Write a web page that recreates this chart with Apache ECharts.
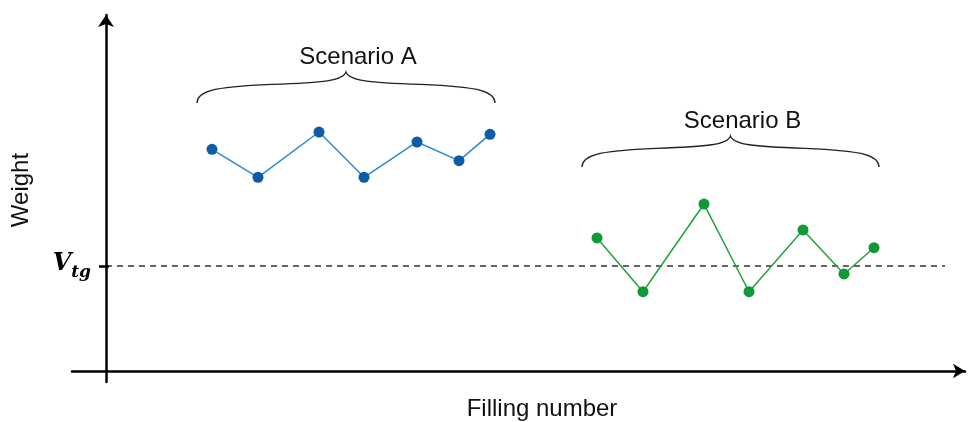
<!DOCTYPE html>
<html>
<head>
<meta charset="utf-8">
<script src="https://cdn.jsdelivr.net/npm/echarts@6/dist/echarts.min.js"></script>
<style>html,body{margin:0;padding:0;background:#fff;}#c{width:970px;height:422px;}</style>
</head>
<body>
<div id="c"></div>
<script>
// ---- data ----
const scenarioNames = ['Scenario A', 'Scenario B'];
const fillingA = [10.6, 15.2, 21.3, 25.8, 31.1, 35.3, 38.4];
const weightA  = [211.1, 184.5, 227.6, 184.5, 218.1, 200.3, 225.4];
const fillingB = [49.1, 53.7, 59.8, 64.3, 69.7, 73.8, 76.8];
const weightB  = [126.7, 75.5, 159.0, 75.5, 134.3, 92.4, 117.4];
const targetWeight = 100;          // V_tg
const targetLineEnd = 83.9;        // filling position where the dashed target line ends
const braceLevels = [255.2, 194.3];
const axisNames = { x: 'Filling number', y: 'Weight' };

// ---- layout ----
const W = 970, H = 422;
const gridLeft = 72, gridRight = 5, gridTop = 15, gridBottom = 40;
const originX = 106, originY = 371;
const pxPerX = 10, pxPerY = 1.05;
const xMin = (gridLeft - originX) / pxPerX;
const xMax = (W - gridRight - originX) / pxPerX;
const yMax = (originY - gridTop) / pxPerY;
const yMin = -((H - gridBottom) - originY) / pxPerY;

const FONT = '"Liberation Sans", Arial, sans-serif';

const groups = [
  { x: fillingA, y: weightA, line: '#2b8ad6', mark: '#0d5ca8' },
  { x: fillingB, y: weightB, line: '#22a03c', mark: '#0e9a34' }
];

const braceData = groups.map((g, i) => [Math.min(...g.x) - 1.5, Math.max(...g.x) + 0.5, braceLevels[i], i]);

const chart = echarts.init(document.getElementById('c'), null, { renderer: 'canvas' });

const series = groups.map((g, i) => ({
  name: scenarioNames[i],
  type: 'line',
  data: g.x.map((v, k) => [v, g.y[k]]),
  symbol: 'circle',
  symbolSize: 11,
  showSymbol: true,
  lineStyle: { color: g.line, width: 1.5 },
  itemStyle: { color: g.mark },
  z: 5
}));

// target dashed line and its tick on the y axis
series.push({
  type: 'line',
  data: [],
  markLine: {
    silent: true,
    symbol: 'none',
    label: { show: false },
    data: [
      [{ coord: [0, targetWeight], lineStyle: { type: [6, 5], color: '#333', width: 1.5 } },
       { coord: [targetLineEnd, targetWeight] }],
      [{ coord: [-0.7, targetWeight], lineStyle: { type: 'solid', color: '#000', width: 2.5 } },
       { coord: [0.3, targetWeight] }]
    ]
  }
});

// braces with scenario labels
series.push({
  type: 'custom',
  data: braceData,
  clip: false,
  z: 4,
  renderItem: function (params, api) {
    const p0 = api.coord([api.value(0), api.value(2)]);
    const p1 = api.coord([api.value(1), api.value(2)]);
    const x0 = p0[0], x1 = p1[0], yb = p0[1];
    const xc = (x0 + x1) / 2, hw = (x1 - x0) / 2, h = 31;
    const d = [
      'M', x0, yb,
      'C', x0, yb - 0.35 * h, x0 + 0.08 * hw, yb - 0.52 * h, x0 + 0.5 * hw, yb - 0.6 * h,
      'C', x0 + 0.85 * hw, yb - 0.66 * h, x0 + 0.98 * hw, yb - 0.72 * h, xc, yb - h,
      'C', xc + 0.02 * hw, yb - 0.72 * h, xc + 0.15 * hw, yb - 0.66 * h, xc + 0.5 * hw, yb - 0.6 * h,
      'C', x1 - 0.08 * hw, yb - 0.52 * h, x1, yb - 0.35 * h, x1, yb
    ].join(' ');
    const idx = api.value(3);
    return {
      type: 'group',
      children: [
        { type: 'path', shape: { pathData: d }, style: { fill: 'none', stroke: '#222', lineWidth: 1.3 } },
        { type: 'text', style: { text: scenarioNames[idx], x: xc + 12, y: yb - h - 15,
            align: 'center', verticalAlign: 'middle', fontSize: 24, fontFamily: FONT, fill: '#111' } }
      ]
    };
  }
});

chart.setOption({
  animation: false,
  backgroundColor: '#fff',
  grid: { left: gridLeft, right: gridRight, top: gridTop, bottom: gridBottom, containLabel: false, outerBoundsMode: 'none' },
  xAxis: {
    type: 'value', min: xMin, max: xMax,
    name: axisNames.x, nameLocation: 'middle', nameGap: 15, nameMoveOverlap: false,
    nameTextStyle: { fontSize: 24, fontFamily: FONT, color: '#111', padding: [0, 0, 0, 47] },
    axisLine: { onZero: true, lineStyle: { color: '#000', width: 2.5 }, symbol: ['none', 'arrow'], symbolSize: [11, 12] },
    axisTick: { show: false }, axisLabel: { show: false }, splitLine: { show: false }
  },
  yAxis: {
    type: 'value', min: yMin, max: yMax,
    name: axisNames.y, nameLocation: 'middle', nameRotate: 90, nameGap: 39, nameMoveOverlap: false,
    nameTextStyle: { fontSize: 24, fontFamily: FONT, color: '#111', padding: [0, 0, 0, 17] },
    axisLine: { onZero: true, lineStyle: { color: '#000', width: 2.5 }, symbol: ['none', 'arrow'], symbolSize: [12, 12] },
    axisTick: { show: false }, splitLine: { show: false },
    axisLabel: {
      show: true, customValues: [targetWeight], margin: -19,
      formatter: function () { return '{v|V}{s|tg}'; },
      rich: {
        v: { fontSize: 24, fontFamily: '"DejaVu Serif", serif', fontWeight: 'bold', fontStyle: 'italic', color: '#000', padding: [0, 0, 4, 0] },
        s: { fontSize: 17, fontFamily: '"DejaVu Serif", serif', fontWeight: 'bold', fontStyle: 'italic', color: '#000', padding: [14, 0, 0, 0] }
      }
    }
  },
  series: series
});
</script>
</body>
</html>
